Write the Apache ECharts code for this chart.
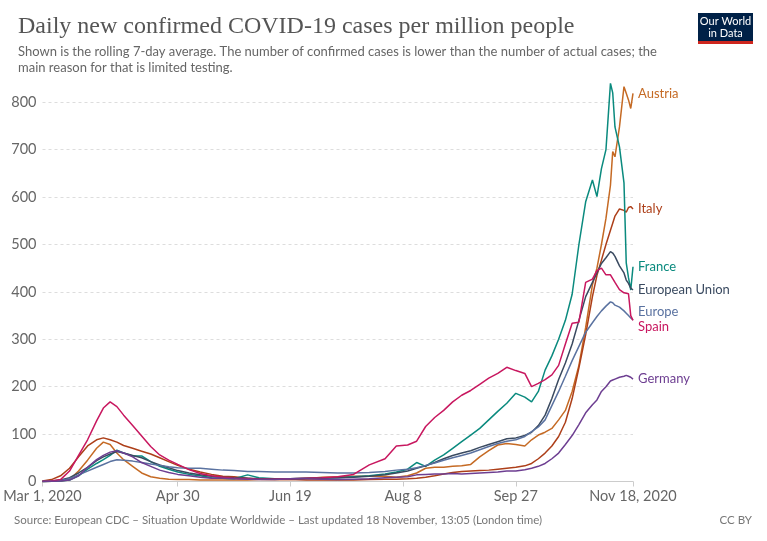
<!DOCTYPE html>
<html>
<head>
<meta charset="utf-8">
<title>Daily new confirmed COVID-19 cases per million people</title>
<script src="https://cdn.jsdelivr.net/npm/echarts@6.0.0/dist/echarts.min.js"></script>
<style>
  html, body { margin: 0; padding: 0; background: #fff; }
  #main { width: 767px; height: 541px; }
</style>
</head>
<body>
<div id="main"></div>
<script>
// sample dates (7-day rolling average, cases per million)
var dates = [
  '2020-03-01','2020-03-05','2020-03-09','2020-03-13','2020-03-17','2020-03-21','2020-03-25','2020-03-28','2020-03-31',
  '2020-04-03','2020-04-06','2020-04-10','2020-04-14','2020-04-18','2020-04-22','2020-04-26','2020-04-30',
  '2020-05-05','2020-05-10','2020-05-15','2020-05-20','2020-05-25','2020-05-31',
  '2020-06-05','2020-06-12','2020-06-19','2020-06-26',
  '2020-07-03','2020-07-10','2020-07-17','2020-07-24','2020-07-31',
  '2020-08-05','2020-08-10','2020-08-14','2020-08-18','2020-08-22','2020-08-26','2020-08-30',
  '2020-09-03','2020-09-07','2020-09-11','2020-09-15','2020-09-19','2020-09-23','2020-09-27',
  '2020-10-01','2020-10-04','2020-10-07','2020-10-10','2020-10-13','2020-10-16','2020-10-19','2020-10-22','2020-10-25','2020-10-28','2020-10-31',
  '2020-11-02','2020-11-04','2020-11-06','2020-11-08','2020-11-09','2020-11-10','2020-11-12','2020-11-14','2020-11-15','2020-11-16','2020-11-17','2020-11-18'
];

var austria = [0,0.3,1,4,22,45,70,83,78, 60,46,32,18,10,7,5,4, 4,3,3,3,3,3, 4,4,4,6, 9,10,11,11,11,
  9,12,18,28,30,30,32, 33,36,52,65,77,80,78,
  75,88,98,104,112,130,150,190,245,325,415, 450,500,555,625,696,685,748,833,819,805,787,819];
var italy = [1,4,12,28,52,75,88,92,88, 83,76,70,64,58,50,42,34, 26,20,15,11,10,7, 5,4,4,3, 3,3,3,4,5,
  5,6,7,9,12,16,19, 21,22,23,24,26,28,30,
  33,38,48,60,75,95,125,175,240,310,390, 435,467,500,530,545,560,575,572,568,578,580,575];
var france = [0,0.3,1,3,12,26,38,46,55, 66,60,54,54,42,32,26,20, 15,12,8,7,6,14, 8,6,6,7, 8,8,10,12,16,
  20,26,40,32,45,56,70, 84,98,112,130,148,165,186,
  178,168,190,235,265,300,340,395,500,590,636, 601,660,700,840,820,748,706,630,461,430,404,453];
var eu = [0.5,1,3,8,18,30,44,52,58, 63,60,55,50,42,35,29,23, 18,14,11,9,8,7, 6,6,6,7, 7,8,9,11,14,
  18,22,28,33,40,48,55, 60,65,72,78,84,90,92,
  97,104,118,140,175,215,250,290,340,390,420, 440,460,472,485,482,475,455,440,425,418,408,404];
var europe = [0.3,0.8,2,6,14,22,30,36,42, 46,45,43,40,37,34,31,29, 28,28,26,24,23,21, 21,20,20,20, 19,18,18,19,21,
  24,26,29,34,39,45,50, 55,60,67,74,80,85,88,
  95,105,115,130,160,190,222,255,285,315,335, 348,360,370,379,377,372,368,360,355,350,345,341];
var spain = [0.5,1,4,22,55,88,128,155,168, 158,140,118,96,74,56,45,36, 25,17,12,9,7,6, 5,5,6,7, 8,10,15,35,48,
  75,77,85,116,135,150,168, 182,192,205,218,228,241,234,
  228,200,207,215,225,245,290,334,336,420,427, 445,450,436,436,428,420,405,398,397,396,350,340];
var germany = [0,0.3,1,3,12,30,46,55,62, 65,60,52,40,32,24,19,15, 12,9,7,7,6,5, 4,4,6,6, 5,4,5,6,8,
  9,10,14,15,16,16,17, 16,17,18,19,20,22,22,
  25,28,32,38,48,60,78,97,120,145,162, 172,190,200,212,214,216,220,222,224,222,220,216];

var tickDates = ['2020-03-01','2020-04-30','2020-06-19','2020-08-08','2020-09-27','2020-11-18'];
var tickLabels = ['Mar 1, 2020','Apr 30','Jun 19','Aug 8','Sep 27','Nov 18, 2020'];

var names = ['Austria','Italy','France','European Union','Europe','Spain','Germany'];
var values = [austria, italy, france, eu, europe, spain, germany];
var colors = ['#c56a24','#ad3f19','#0a8a7e','#3a4a60','#5a72a0','#c8175f','#6d3e91'];
var labelOffsets = [[0,1],[0,0],[0,0],[0,0],[0,-8],[0,6],[0,0]];

// day number counted from the first date
function dayOf(s) {
  var p = s.split('-');
  return Math.round((Date.UTC(+p[0], +p[1] - 1, +p[2]) - Date.UTC(2020, 2, 1)) / 86400000);
}
var tickDays = tickDates.map(dayOf);

var font = 'Lato, "Noto Sans", sans-serif';

var series = names.map(function (name, k) {
  return {
    name: name,
    type: 'line',
    showSymbol: false,
    symbol: 'none',
    clip: false,
    lineStyle: { width: 1.5, color: colors[k] },
    itemStyle: { color: colors[k] },
    endLabel: {
      show: true,
      formatter: '{a}',
      color: colors[k],
      fontFamily: font,
      fontSize: 13,
      distance: 5,
      offset: labelOffsets[k]
    },
    data: dates.map(function (d, i) { return [dayOf(d), values[k][i]]; })
  };
});

var myChart = echarts.init(document.getElementById('main'));
myChart.setOption({
  animation: false,
  title: {
    text: 'Daily new confirmed COVID-19 cases per million people',
    subtext: 'Shown is the rolling 7-day average. The number of confirmed cases is lower than the number of actual cases; the\nmain reason for that is limited testing.',
    left: 13,
    top: 10,
    itemGap: 5,
    textStyle: {
      fontFamily: '"Liberation Serif", "DejaVu Serif", serif',
      fontSize: 24,
      fontWeight: 'normal',
      color: '#555'
    },
    subtextStyle: {
      fontFamily: font,
      fontSize: 13,
      lineHeight: 16,
      color: '#666'
    }
  },
  grid: { left: 42.5, right: 134, top: 102.3, bottom: 59.5 },
  xAxis: {
    type: 'value',
    min: tickDays[0],
    max: tickDays[tickDays.length - 1],
    axisLine: { lineStyle: { color: '#ccc' } },
    axisTick: { show: true, customValues: tickDays, length: 5, lineStyle: { color: '#ccc' } },
    splitLine: { show: false },
    axisLabel: {
      customValues: tickDays,
      margin: 7,
      color: '#666',
      fontFamily: font,
      fontSize: 14.5,
      formatter: function (v) {
        var i = tickDays.indexOf(Math.round(v));
        return i < 0 ? '' : tickLabels[i];
      }
    }
  },
  yAxis: {
    type: 'value',
    min: 0,
    max: 800,
    interval: 100,
    axisLine: { show: false },
    axisTick: { show: false },
    axisLabel: { color: '#666', fontFamily: font, fontSize: 14.5, margin: 6 },
    splitLine: { lineStyle: { color: '#ddd', type: [3, 3] } }
  },
  graphic: [
    { type: 'rect', shape: { x: 698, y: 13, width: 55, height: 28 }, style: { fill: '#002147' } },
    { type: 'rect', shape: { x: 698, y: 41, width: 55, height: 3 }, style: { fill: '#ce261e' } },
    { type: 'text', x: 725.5, y: 21.5, style: { text: 'Our World', fill: '#fff', font: '11px Lato', textAlign: 'center', textVerticalAlign: 'middle' } },
    { type: 'text', x: 725.5, y: 33.5, style: { text: 'in Data', fill: '#fff', font: '11px Lato', textAlign: 'center', textVerticalAlign: 'middle' } },
    { type: 'text', x: 14, y: 520, style: { text: 'Source: European CDC – Situation Update Worldwide – Last updated 18 November, 13:05 (London time)', fill: '#777', font: '11.5px Lato', textVerticalAlign: 'middle' } },
    { type: 'text', x: 752, y: 520, style: { text: 'CC BY', fill: '#777', font: '11.5px Lato', textAlign: 'right', textVerticalAlign: 'middle' } }
  ],
  series: series
});
</script>
</body>
</html>
